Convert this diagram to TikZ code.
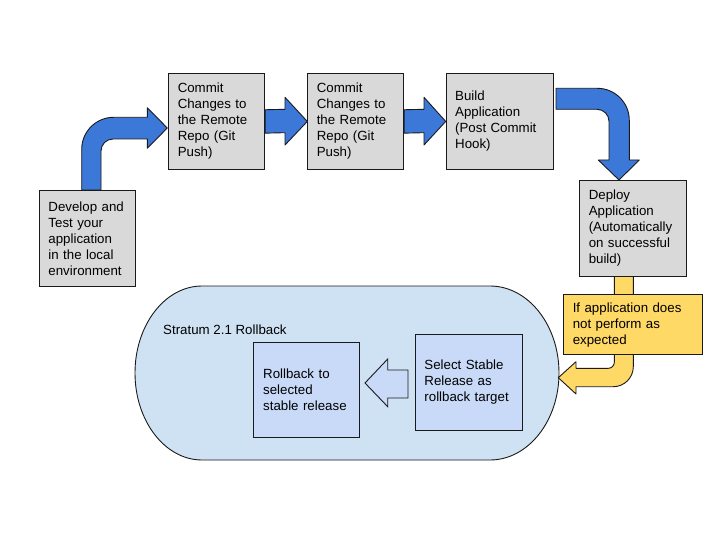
\documentclass[tikz,border=0pt]{standalone}
\usepackage{fontspec}
\setmainfont{Liberation Sans}
\definecolor{boxgray}{HTML}{D9D9D9}
\definecolor{arrowblue}{HTML}{3C78D8}
\definecolor{yel}{HTML}{FFD966}
\definecolor{ltblue}{HTML}{CFE2F3}
\definecolor{pale}{HTML}{C9DAF8}
\definecolor{edge}{HTML}{1A1A1A}
\begin{document}
\begin{tikzpicture}[x=1pt,y=-1pt,
  box/.style={draw=edge, line width=0.9pt, fill=boxgray, rectangle, inner xsep=9pt, inner ysep=0pt,
    align=left, anchor=north west, font=\fontsize{13.3}{16}\selectfont},
  barrow/.style={fill=arrowblue, draw=edge, line width=0.9pt, line join=round},
  yarrow/.style={fill=yel, draw=edge, line width=0.9pt, line join=round},
  harrow/.style={fill=pale, draw=edge, line width=0.9pt, line join=miter}]
\useasboundingbox (0,0) rectangle (720,540);

% big rounded region
\draw[fill=ltblue, draw=edge, line width=0.9pt]
  (202,286) -- (490,286) .. controls (528.1,286) and (559,325) .. (559,373)
  .. controls (559,421) and (528.1,460) .. (490,460) -- (202,460)
  .. controls (165,460) and (135,421) .. (135,373)
  .. controls (135,325) and (165,286) .. (202,286) -- cycle;
\node[anchor=west, inner sep=0pt, font=\fontsize{13.3}{16}\selectfont] (title) at (163,330) {Stratum 2.1 Rollback};

% boxes
\node[box, text width=78pt, minimum width=96pt, minimum height=96pt] (dev) at (39,190)
  {Develop and\\Test your\\application\\in the local\\environment};
\node[box, text width=78pt, minimum width=96pt, minimum height=96pt] (c1) at (168.3,73)
  {Commit\\Changes to\\the Remote\\Repo (Git\\Push)};
\node[box, text width=78pt, minimum width=96pt, minimum height=96pt] (c2) at (307.3,73)
  {Commit\\Changes to\\the Remote\\Repo (Git\\Push)};
\node[box, text width=89.6pt, minimum width=107.6pt, minimum height=96pt] (build) at (445.7,73)
  {Build\\Application\\(Post Commit\\Hook)};

% yellow arrow (behind deploy and condition boxes)
\draw[yarrow] (614.3,276) -- (633.3,276) -- (633.3,366.7)
  .. controls (633.3,377.7) and (624.3,386.7) .. (613.3,386.7)
  -- (576,386.7) -- (576,394) -- (558.3,377.7) -- (576,361.7) -- (576,368.3) -- (608.3,368.3)
  .. controls (611.6,368.3) and (614.3,365.6) .. (614.3,362.3) -- cycle;

\node[box, text width=88.7pt, minimum width=106.7pt, minimum height=96pt] (deploy) at (579.3,180)
  {Deploy\\Application\\(Automatically\\on successful\\build)};
\node[box, fill=yel, text width=121pt, minimum width=139pt, minimum height=60pt] (cond) at (563.3,294.3)
  {If application does\\not perform as\\expected};

\node[box, fill=pale, inner xsep=10pt, text width=86.6pt, minimum width=106.6pt, minimum height=95pt] (roll) at (252.7,341.7)
  {Rollback to\\selected\\stable release};
\node[box, fill=pale, text width=89.3pt, minimum width=107.3pt, minimum height=96pt] (sel) at (415,334)
  {Select Stable\\Release as\\rollback target};

% blue arrows
\draw[barrow] (81.7,190) -- (81.7,149.3)
  .. controls (81.7,131.6) and (96,117.3) .. (113.7,117.3)
  -- (147.3,117.3) -- (147.3,107.7) -- (167.3,128) -- (147.3,148.3) -- (147.3,139) -- (113,139)
  .. controls (106.4,139) and (101,144.4) .. (101,151) -- (101,190) -- cycle;

\draw[barrow] ([yshift=11.7pt]c1.east) -- (285,109.3) -- (285,97.3) -- (c2.west)
  -- (285,145) -- (285,132.7) -- ([yshift=-11.7pt]c1.east) -- cycle;
\draw[barrow] ([yshift=11.7pt]c2.east) -- (424,109.3) -- (424,97.3) -- (build.west)
  -- (424,145) -- (424,132.7) -- ([yshift=-11.7pt]c2.east) -- cycle;

\draw[barrow] (556,88.3) -- (597.3,88.3)
  .. controls (615,88.3) and (629.3,102.6) .. (629.3,120.3)
  -- (629.3,160) -- (639.3,160) -- (619,180) -- (598.3,160) -- (609,160) -- (609,121.3)
  .. controls (609,114.7) and (603.6,109.3) .. (597,109.3) -- (556,109.3) -- cycle;

% hollow arrow inside region
\draw[harrow] (408,370) -- (387.7,370) -- (387.7,359) -- (365,383) -- (387.7,406.7)
  -- (387.7,398) -- (408,398) -- cycle;
\end{tikzpicture}
\end{document}
